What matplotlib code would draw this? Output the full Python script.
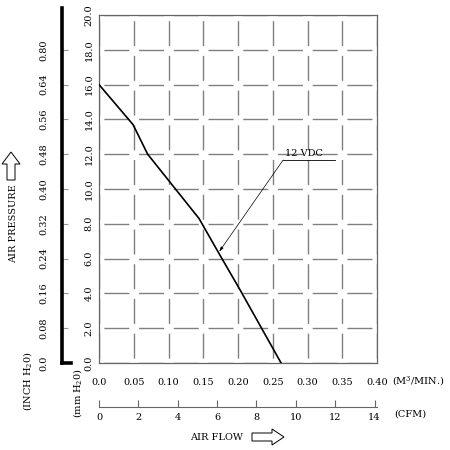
import numpy as np
import matplotlib
matplotlib.use('Agg')
import matplotlib.pyplot as plt
from matplotlib.patches import FancyArrow

plt.rcParams['font.family'] = ['DejaVu Serif']
plt.rcParams['font.size'] = 7
plt.rcParams['mathtext.fontset'] = 'dejavuserif'

# 数据
flow = [0.0, 0.049, 0.070, 0.144, 0.174, 0.203, 0.262]   # M3/MIN
pressure = [16.0, 13.7, 12.0, 8.3, 6.2, 4.2, 0.0]        # mm H2O
x_ticks = [0.0, 0.05, 0.10, 0.15, 0.20, 0.25, 0.30, 0.35, 0.40]
x_labels = ['0.0', '0.05', '0.10', '0.15', '0.20', '0.25', '0.30', '0.35', '0.40']
mm_ticks = [0, 2, 4, 6, 8, 10, 12, 14, 16, 18, 20]
mm_labels = ['0.0', '2.0', '4.0', '6.0', '8.0', '10.0', '12.0', '14.0', '16.0', '18.0', '20.0']
inch_ticks = [0, 2, 4, 6, 8, 10, 12, 14, 16, 18]
inch_labels = ['0.0', '0.08', '0.16', '0.24', '0.32', '0.40', '0.48', '0.56', '0.64', '0.80']
cfm_ticks = [0, 2, 4, 6, 8, 10, 12, 14]
M3_TO_CFM = 35.31

W = H = 450.0
fig = plt.figure(figsize=(4.5, 4.5), dpi=100)
ax = fig.add_axes([99 / W, (H - 363) / H, 278 / W, 348 / H])

ax.plot(flow, pressure, color='black', lw=1.2, zorder=3)
ax.set_xlim(0, 0.40)
ax.set_ylim(0, 20)

ax.set_xticks(x_ticks)
ax.set_xticklabels(x_labels)
ax.set_yticks(mm_ticks)
ax.set_yticklabels(mm_labels, rotation=90, va='center')
ax.tick_params(axis='x', length=0, pad=11)
ax.tick_params(axis='y', length=0, pad=4)
for s in ax.spines.values():
    s.set_color('0.4')
    s.set_linewidth(0.9)

# 网格 (虚线, 交叉处断开)
ax.xaxis.grid(True, color='0.5', lw=1.0, linestyle=(21.5, (18, 7)))
ax.yaxis.grid(True, color='0.5', lw=1.0, linestyle=(21.5, (18, 7)))
ax.set_axisbelow(True)

# 12 VDC 标注
ax.annotate('', xy=(0.173, 6.4), xytext=(0.265, 11.67),
            arrowprops=dict(arrowstyle='-|>,head_length=0.4,head_width=0.12',
                            color='black', lw=0.5, shrinkA=0, shrinkB=0))
ax.plot([0.265, 0.340], [11.67, 11.67], color='black', lw=0.6)
ax.text(0.268, 11.8, '12 VDC', ha='left', va='bottom')

# 英寸水柱轴 (粗线)
ax2 = fig.add_axes([62 / W, (H - 363) / H, 9 / W, 348 / H])
ax2.set_ylim(0, 20)
ax2.patch.set_visible(False)
ax2.spines['top'].set_visible(False)
ax2.spines['right'].set_visible(False)
ax2.spines['left'].set_linewidth(2.6)
ax2.spines['left'].set_bounds(0, 20.4)
ax2.spines['bottom'].set_linewidth(2.6)
ax2.set_xticks([])
ax2.set_yticks(inch_ticks)
ax2.set_yticklabels(inch_labels, rotation=90, va='center')
ax2.tick_params(axis='y', direction='in', length=4, color='0.6', pad=10)

# CFM 轴
sec = ax.secondary_xaxis(-44 / 348, functions=(lambda v: v * M3_TO_CFM,
                                                lambda v: v / M3_TO_CFM))
sec.set_xticks(cfm_ticks)
sec.tick_params(axis='x', direction='in', length=5, color='0.4', pad=4)
sec.spines['bottom'].set_color('0.4')

# 标签
fig.text(392 / W, 1 - 381 / H, '(M$^3$/MIN.)', ha='left', va='center')
fig.text(394 / W, 1 - 414 / H, '(CFM)', ha='left', va='center')
fig.text(216 / W, 1 - 437 / H, 'AIR FLOW', ha='center', va='center')
fig.text(14 / W, 1 - 224 / H, 'AIR PRESSURE', rotation=90, ha='center', va='center')
fig.text(28 / W, 1 - 381 / H, '(INCH H$_2$0)', rotation=90, ha='center', va='center')
fig.text(77 / W, 1 - 393 / H, '(mm H$_2$0)', rotation=90, ha='center', va='center')

# 空心箭头
fig.patches.append(FancyArrow(252 / W, 1 - 437 / H, 32 / W, 0, width=8 / H,
                              head_width=16 / H, head_length=12 / W,
                              length_includes_head=True, transform=fig.transFigure,
                              facecolor='white', edgecolor='black', lw=0.7))
fig.patches.append(FancyArrow(11 / W, 1 - 180 / H, 0, 28 / H, width=8 / W,
                              head_width=18 / W, head_length=12 / H,
                              length_includes_head=True, transform=fig.transFigure,
                              facecolor='white', edgecolor='black', lw=0.7))

fig.savefig('out.png', dpi=100)
